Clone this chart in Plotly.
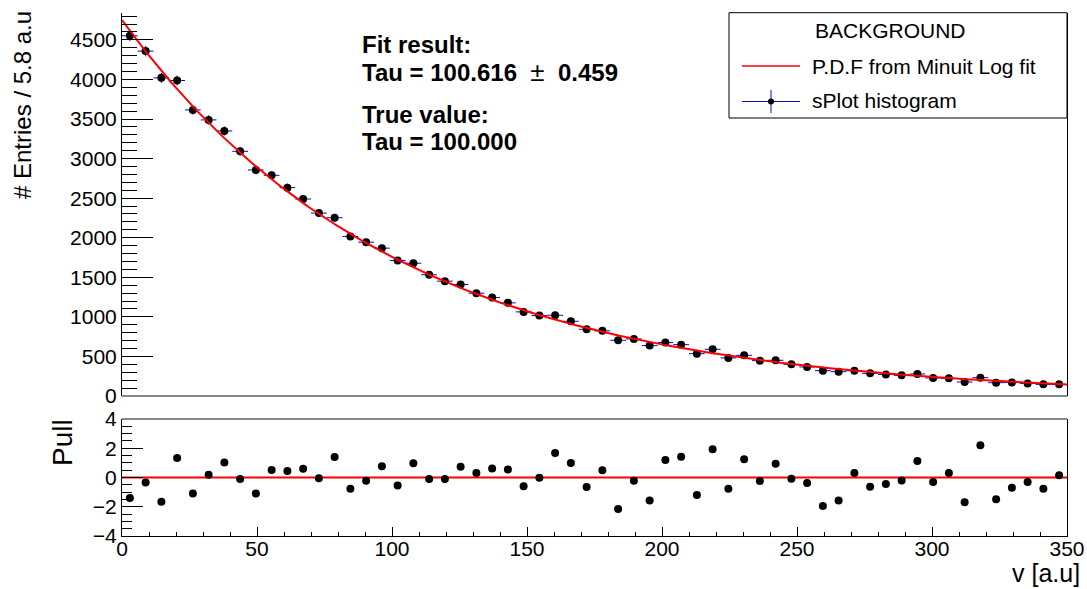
import numpy as np
import plotly.graph_objects as go

# ---------------- data ----------------
X_MIN, X_MAX, N_BINS = 0.0, 350.0, 60

counts = [4552, 4358, 4020, 3987, 3615, 3489, 3349, 3092, 2856, 2789,
          2633, 2489, 2311, 2253, 2016, 1944, 1868, 1712, 1678, 1532,
          1451, 1409, 1299, 1244, 1177, 1063, 1016, 1020, 944, 843,
          823, 704, 721, 637, 675, 649, 535, 590, 481, 514,
          447, 451, 400, 367, 320, 308, 320, 286, 273, 261,
          278, 228, 223, 177, 232, 168, 172, 159, 147, 147]

pulls = [-1.40, -0.34, -1.65, 1.33, -1.10, 0.18, 1.02, -0.11, -1.10, 0.52,
         0.45, 0.59, -0.05, 1.40, -0.77, -0.23, 0.77, -0.54, 0.97, -0.11,
         -0.11, 0.73, 0.30, 0.62, 0.55, -0.59, -0.02, 1.67, 0.99, -0.65,
         0.49, -2.16, -0.22, -1.57, 1.19, 1.42, -1.20, 1.94, -0.77, 1.24,
         -0.24, 0.94, -0.08, -0.38, -1.95, -1.57, 0.30, -0.63, -0.45, -0.20,
         1.13, -0.31, 0.30, -1.70, 2.20, -1.49, -0.70, -0.31, -0.77, 0.15]

FIT_TAU = 100.616
FIT_TAU_ERR = 0.459
TRUE_TAU = 100.000
FIT_NORM = 4750.0  # fitted curve value at v = 0 (entries per bin)

legend_labels = ["BACKGROUND", "P.D.F from Minuit Log fit", "sPlot histogram"]
y_title = "# Entries / 5.8 a.u"
x_title = "v [a.u]"
pull_title = "Pull"

# ---------------- derived ----------------
bw = (X_MAX - X_MIN) / N_BINS
centers = X_MIN + (np.arange(N_BINS) + 0.5) * bw
counts_arr = np.array(counts, dtype=float)
errs = np.sqrt(counts_arr)
xfit = np.linspace(X_MIN, X_MAX, 400)
yfit = FIT_NORM * np.exp(-xfit / FIT_TAU)

W, H = 1087, 589
def px(x):
    return x / W
def py(y):
    return 1 - y / H

FONT = "Liberation Sans, Arial, Helvetica, sans-serif"
BLUE = "rgb(10,10,200)"

fig = go.Figure()

fig.add_trace(go.Scatter(
    x=centers, y=counts_arr, mode="markers",
    marker=dict(color="black", size=8),
    error_y=dict(type="data", array=errs, color=BLUE, thickness=1, width=0),
    error_x=dict(type="constant", value=bw / 2, color=BLUE, thickness=1, width=0),
    xaxis="x", yaxis="y", showlegend=False, name=legend_labels[2]))

fig.add_trace(go.Scatter(
    x=xfit, y=yfit, mode="lines", line=dict(color="#ff0000", width=2),
    xaxis="x", yaxis="y", showlegend=False, name=legend_labels[1]))

fig.add_trace(go.Scatter(
    x=[X_MIN, X_MAX], y=[0, 0], mode="lines", line=dict(color="#ff0000", width=2),
    xaxis="x2", yaxis="y2", showlegend=False, hoverinfo="skip"))

fig.add_trace(go.Scatter(
    x=centers, y=pulls, mode="markers", marker=dict(color="black", size=8),
    xaxis="x2", yaxis="y2", showlegend=False, name="Pull"))

xdom = [px(122), px(1067)]
top_dom = [py(396), py(12.5)]
bot_dom = [py(536), py(419)]
tickfont = dict(family=FONT, size=21, color="black")

fig.update_layout(
    width=W, height=H, autosize=False, showlegend=False,
    margin=dict(l=0, r=0, t=0, b=0, pad=0, autoexpand=False),
    paper_bgcolor="white", plot_bgcolor="white",
    font=dict(family=FONT, color="black"),
    xaxis=dict(domain=xdom, range=[X_MIN, X_MAX], showticklabels=False,
               showgrid=False, zeroline=False, showline=False, ticks="",
               anchor="y", automargin=False),
    yaxis=dict(domain=top_dom, range=[0, 4846], showgrid=False, zeroline=False,
               showline=True, linecolor="black", linewidth=1, mirror=True,
               ticks="inside", ticklen=31, tickwidth=1, tickcolor="black",
               tickvals=[0, 500, 1000, 1500, 2000, 2500, 3000, 3500, 4000, 4500],
               minor=dict(ticks="inside", ticklen=15, dtick=100, tickcolor="black", tickwidth=1),
               tickfont=tickfont, anchor="x", automargin=False),
    xaxis2=dict(domain=xdom, range=[X_MIN, X_MAX], showgrid=False, zeroline=False,
                showline=True, linecolor="black", linewidth=1,
                ticks="inside", ticklen=9, tickwidth=1, tickcolor="black", dtick=50,
                minor=dict(ticks="inside", ticklen=4, dtick=10, tickcolor="black", tickwidth=1),
                tickfont=tickfont, anchor="y2", automargin=False, ticklabelstandoff=-6),
    yaxis2=dict(domain=bot_dom, range=[-4, 4], showgrid=False, zeroline=False,
                showline=True, linecolor="black", linewidth=1, mirror=True,
                ticks="inside", ticklen=21, tickwidth=1, tickcolor="black",
                tickvals=[-4, -2, 0, 2, 4],
                minor=dict(ticks="inside", ticklen=10, dtick=0.5, tickcolor="black", tickwidth=1),
                tickfont=tickfont, anchor="x2", automargin=False),
)

shapes = [
    # gray frame edges between pads
    dict(type="line", xref="paper", yref="paper", x0=px(122), x1=px(1067),
         y0=py(396), y1=py(396), line=dict(color="#888888", width=2)),
    dict(type="line", xref="paper", yref="paper", x0=px(122), x1=px(1067),
         y0=py(419), y1=py(419), line=dict(color="#888888", width=2)),
    # legend box
    dict(type="rect", xref="paper", yref="paper", x0=px(729), x1=px(1067),
         y0=py(118), y1=py(12.7), line=dict(color="black", width=1), fillcolor="white",
         layer="above"),
    # legend red line
    dict(type="line", xref="paper", yref="paper", x0=px(742), x1=px(800),
         y0=py(66), y1=py(66), line=dict(color="#ff0000", width=1.5), layer="above"),
    # legend blue histogram symbol
    dict(type="line", xref="paper", yref="paper", x0=px(742), x1=px(800),
         y0=py(101.5), y1=py(101.5), line=dict(color=BLUE, width=1), layer="above"),
    dict(type="line", xref="paper", yref="paper", x0=px(771), x1=px(771),
         y0=py(90), y1=py(113), line=dict(color=BLUE, width=1), layer="above"),
    dict(type="circle", xref="paper", yref="paper", x0=px(768), x1=px(774),
         y0=py(104.5), y1=py(98.5), line=dict(color="black", width=0),
         fillcolor="black", layer="above"),
]

bold = dict(family=FONT, size=24, color="black")
NB = "\u00a0"
ann = [
    dict(text="<b>Fit result:</b>", x=px(360), y=py(45), xanchor="left", yanchor="middle", font=bold),
    dict(text="<b>Tau = %.3f%s%s</b><span style='font-size:26px'>\u00b1</span><b>%s%s%.3f</b>"
              % (FIT_TAU, NB, NB, NB, NB, FIT_TAU_ERR),
         x=px(360), y=py(72), xanchor="left", yanchor="middle", font=bold),
    dict(text="<b>True value:</b>", x=px(360), y=py(115), xanchor="left", yanchor="middle", font=bold),
    dict(text="<b>Tau = %.3f</b>" % TRUE_TAU, x=px(360), y=py(141), xanchor="left", yanchor="middle", font=bold),
    dict(text=legend_labels[0], x=px(813), y=py(31), xanchor="left", yanchor="middle",
         font=dict(family=FONT, size=21, color="black")),
    dict(text=legend_labels[1], x=px(810), y=py(67), xanchor="left", yanchor="middle",
         font=dict(family=FONT, size=21, color="black")),
    dict(text=legend_labels[2], x=px(810), y=py(101), xanchor="left", yanchor="middle",
         font=dict(family=FONT, size=21, color="black")),
    dict(text=y_title, x=px(22), y=py(105), xanchor="center", yanchor="middle", textangle=-90,
         font=dict(family=FONT, size=24, color="black")),
    dict(text=pull_title, x=px(62), y=py(443), xanchor="center", yanchor="middle", textangle=-90,
         font=dict(family=FONT, size=28, color="black")),
    dict(text=x_title, x=px(1082), y=py(573), xanchor="right", yanchor="middle",
         font=dict(family=FONT, size=25, color="black")),
]
for a in ann:
    a.update(xref="paper", yref="paper", showarrow=False)

fig.update_layout(shapes=shapes, annotations=ann)

fig.write_html(
    "out.html",
    config={"displayModeBar": False},
    post_script="document.body.style.margin='0px';document.body.style.padding='0px';"
                "document.body.style.overflow='hidden';",
)
